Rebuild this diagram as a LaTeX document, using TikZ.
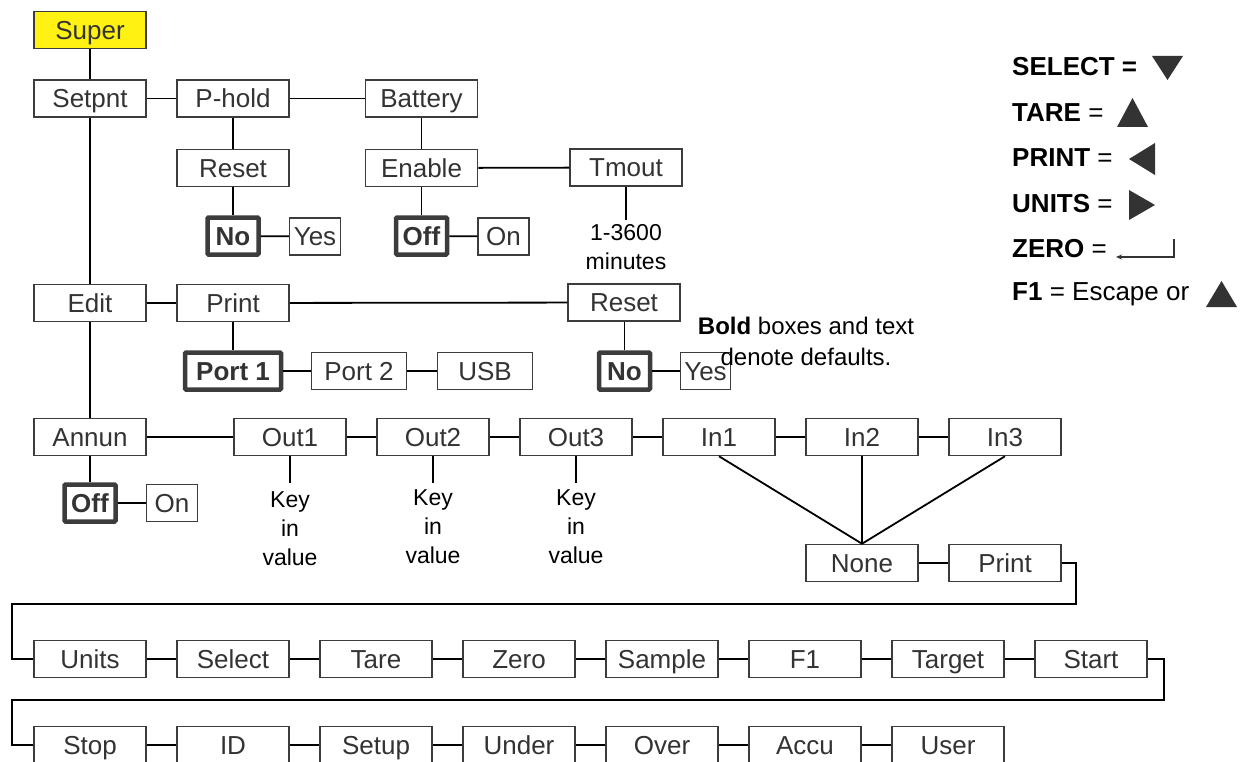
\documentclass[tikz,border=0pt]{standalone}
\usepackage{fontspec}
\setmainfont{Liberation Sans}
\usetikzlibrary{arrows.meta}
\definecolor{boxline}{HTML}{3C3C3C}
\definecolor{boxtext}{HTML}{333333}
\definecolor{superfill}{HTML}{FFF212}
\definecolor{trifill}{HTML}{333333}
\tikzset{
  menubox/.style={draw=boxline, line width=1.5pt, fill=white, text=boxtext,
    minimum width=112pt, minimum height=37pt, inner sep=0pt,
    text height=18.5pt, text depth=0pt,
    font=\fontsize{26}{30}\selectfont},
  smallbox/.style={menubox, minimum width=51pt},
  defbox/.style={menubox, line width=4.5pt, minimum width=51pt, minimum height=37pt,
    rounded corners=1pt, font=\fontsize{26}{30}\selectfont\bfseries},
  conn/.style={draw=black, line width=1.8pt},
  note/.style={align=center, inner sep=0pt, text=black, font=\fontsize{23}{29}\selectfont},
  legend/.style={anchor=west, inner sep=0pt, text=black, font=\fontsize{26}{28}\selectfont},
  tri/.style={fill=trifill, draw=none}
}
\begin{document}
\begin{tikzpicture}[x=1pt,y=-1pt]
\useasboundingbox (0,0) rectangle (1241,762);
% ---- top block
\node[menubox, fill=superfill] (super) at (90,30) {Super};
\node[menubox] (setpnt) at (90,98.5) {Setpnt};
\node[menubox] (phold) at (233,98.5) {P-hold};
\node[menubox] (battery) at (421.5,98.5) {Battery};
\node[menubox] (reset1) at (233,168) {Reset};
\node[menubox] (enable) at (421.5,168) {Enable};
\node[menubox] (tmout) at (626,167.5) {Tmout};
\node[defbox] (no1) at (233,236) {No};
\node[smallbox] (yes1) at (315,236.5) {Yes};
\node[defbox] (off1) at (421.5,236) {Off};
\node[smallbox] (on1) at (503.5,236.5) {On};
\coordinate (tmend) at (626,220);
\node[note] (tmtext) at (626,247) {1-3600\\minutes};
% ---- edit block
\node[menubox] (edit) at (90,303) {Edit};
\node[menubox] (print) at (233,303) {Print};
\node[menubox] (reset2) at (624,302.5) {Reset};
\node[defbox, minimum width=96pt] (port1) at (233,371) {Port 1};
\node[menubox, minimum width=95pt] (port2) at (359,371) {Port 2};
\node[menubox, minimum width=95pt] (usb) at (485,371) {USB};
\node[defbox] (no2) at (624.5,371) {No};
\node[smallbox, minimum width=50pt] (yes2) at (705.5,371) {Yes};
% ---- annun block
\node[menubox] (annun) at (90,437) {Annun};
\node[menubox] (out1) at (290,437) {Out1};
\node[menubox] (out2) at (433,437) {Out2};
\node[menubox] (out3) at (576,437) {Out3};
\node[menubox] (in1) at (719,437) {In1};
\node[menubox] (in2) at (862,437) {In2};
\node[menubox] (in3) at (1005,437) {In3};
\node[defbox] (off2) at (90,503) {Off};
\node[smallbox] (on2) at (172,503) {On};
\coordinate (o1end) at (290,483);
\coordinate (o2end) at (433,483);
\coordinate (o3end) at (576,483);
\node[note] (k1) at (290,528.5) {Key\\in\\value};
\node[note] (k2) at (433,526.5) {Key\\in\\value};
\node[note] (k3) at (576,526.5) {Key\\in\\value};
\node[menubox] (none) at (862,563) {None};
\node[menubox] (print2) at (1005,563) {Print};
% ---- row U
\node[menubox] (units) at (90,659) {Units};
\node[menubox] (select) at (233,659) {Select};
\node[menubox] (tare) at (376,659) {Tare};
\node[menubox] (zero) at (519,659) {Zero};
\node[menubox] (sample) at (662,659) {Sample};
\node[menubox] (f1) at (805,659) {F1};
\node[menubox] (target) at (948,659) {Target};
\node[menubox] (start) at (1091,659) {Start};
% ---- row S
\node[menubox] (stop) at (90,745) {Stop};
\node[menubox] (id) at (233,745) {ID};
\node[menubox] (setup) at (376,745) {Setup};
\node[menubox] (under) at (519,745) {Under};
\node[menubox] (over) at (662,745) {Over};
\node[menubox] (accu) at (805,745) {Accu};
\node[menubox] (user) at (948,745) {User};
% ---- connectors
\draw[conn] (super) -- (setpnt);
\draw[conn] (setpnt) -- (phold);
\draw[conn] (phold) -- (battery);
\draw[conn] (setpnt) -- (edit);
\draw[conn] (phold) -- (reset1);
\draw[conn] (reset1) -- (no1);
\draw[conn] (no1) -- (yes1);
\draw[conn] (battery) -- (enable);
\draw[conn] (enable) -- (off1);
\draw[conn] (off1) -- (on1);
\draw[conn] (enable) -- (tmout);
\draw[conn] (tmout) -- (tmend);
\draw[conn] (edit) -- (print);
\draw[conn] (print) -- (reset2);
\draw[conn] (print) -- (port1);
\draw[conn] (port1) -- (port2);
\draw[conn] (port2) -- (usb);
\draw[conn] (reset2.south -| no2) -- (no2);
\draw[conn] (no2) -- (yes2);
\draw[conn] (edit) -- (annun);
\draw[conn] (annun) -- (off2);
\draw[conn] (off2) -- (on2);
\draw[conn] (annun) -- (out1);
\draw[conn] (out1) -- (out2);
\draw[conn] (out2) -- (out3);
\draw[conn] (out3) -- (in1);
\draw[conn] (in1) -- (in2);
\draw[conn] (in2) -- (in3);
\draw[conn] (out1) -- (o1end);
\draw[conn] (out2) -- (o2end);
\draw[conn] (out3) -- (o3end);
\draw[conn] (in1.south) -- (none.north);
\draw[conn] (in2.south) -- (none.north);
\draw[conn] (in3.south) -- (none.north);
\draw[conn] (none) -- (print2);
\coordinate (w1a) at (1076,563);
\coordinate (w1b) at (1076,604);
\coordinate (w1c) at (12,604);
\coordinate (w1d) at (12,659);
\draw[conn] (print2.east) -- (w1a) -- (w1b) -- (w1c) -- (w1d) -- (units.west);
\draw[conn] (units) -- (select);
\draw[conn] (select) -- (tare);
\draw[conn] (tare) -- (zero);
\draw[conn] (zero) -- (sample);
\draw[conn] (sample) -- (f1);
\draw[conn] (f1) -- (target);
\draw[conn] (target) -- (start);
\coordinate (w2a) at (1164,659);
\coordinate (w2b) at (1164,700);
\coordinate (w2c) at (12,700);
\coordinate (w2d) at (12,745);
\draw[conn] (start.east) -- (w2a) -- (w2b) -- (w2c) -- (w2d) -- (stop.west);
\draw[conn] (stop) -- (id);
\draw[conn] (id) -- (setup);
\draw[conn] (setup) -- (under);
\draw[conn] (under) -- (over);
\draw[conn] (over) -- (accu);
\draw[conn] (accu) -- (user);
% ---- note
\node[note, font=\fontsize{24}{31}\selectfont] (boldnote) at (806,341.5) {\textbf{Bold} boxes and text\\denote defaults.};
% ---- legend
\node[legend] (lsel) at (1012,67) {\textbf{SELECT =}};
\node[legend] (ltare) at (1012,113) {\textbf{TARE} =};
\node[legend] (lprint) at (1012,158) {\textbf{PRINT} =};
\node[legend] (lunits) at (1012,204) {\textbf{UNITS} =};
\node[legend] (lzero) at (1012,249) {\textbf{ZERO} =};
\node[legend] (lf1) at (1012,294) {\textbf{F1} = Escape or};
\fill[tri] (1152,56) -- (1183,56) -- (1167.5,80) -- cycle;
\fill[tri] (1117,127) -- (1148,127) -- (1132.5,98) -- cycle;
\fill[tri] (1155,143) -- (1155,175) -- (1129,159) -- cycle;
\fill[tri] (1129,190) -- (1129,220) -- (1155,205) -- cycle;
\draw[line width=1.2pt, draw=trifill, -{Stealth[length=6pt,width=5pt]}] (1174,239) -- (1174,257) -- (1116,257);
\fill[tri] (1206,307) -- (1237,307) -- (1221.5,281) -- cycle;
\end{tikzpicture}
\end{document}
